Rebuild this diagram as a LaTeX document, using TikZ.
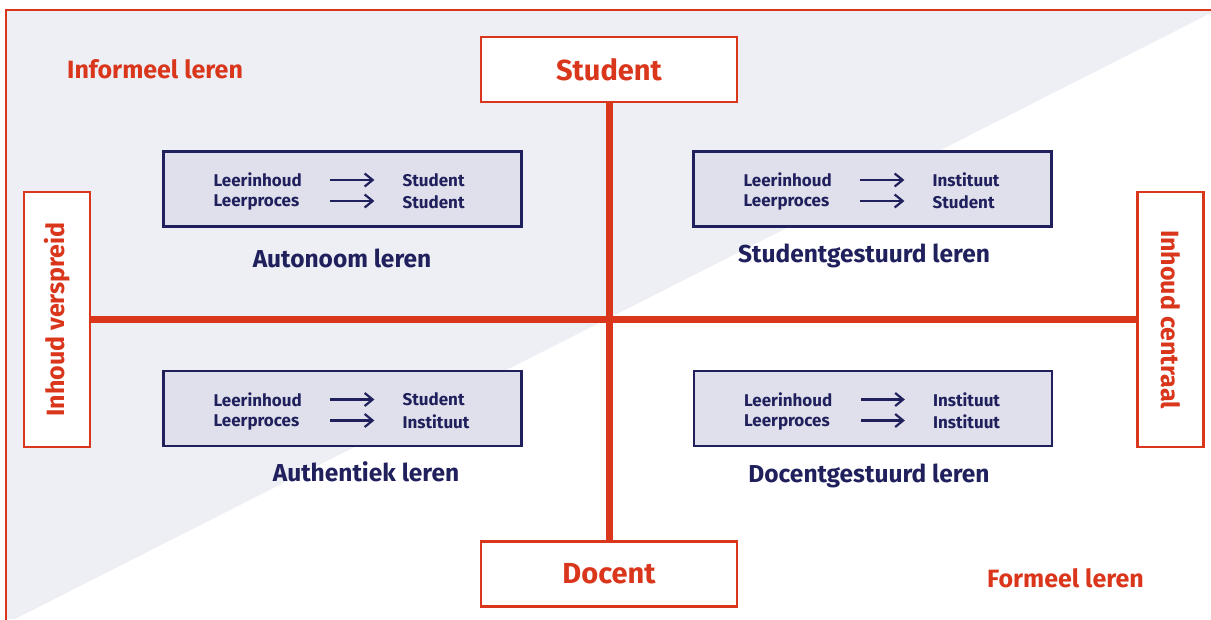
\documentclass[tikz,border=0pt]{standalone}
\usepackage{fontspec}
\setmainfont{Fira Sans}
\usetikzlibrary{arrows.meta,calc}
\definecolor{rood}{HTML}{D9361C}
\definecolor{navy}{HTML}{1F205C}
\definecolor{lila}{HTML}{EEEEF5}
\definecolor{vakvul}{HTML}{E0E0EC}
\tikzset{
  redbox/.style={draw=rood,line width=2.2pt,fill=white,inner sep=0pt},
  pole/.style={redbox,minimum width=256pt,minimum height=65pt,font=\bfseries\fontsize{29}{30}\selectfont,text=rood},
  side/.style={redbox,minimum width=255pt,minimum height=66pt,font=\bfseries\fontsize{25}{27}\selectfont,text=rood},
  axis/.style={draw=rood,line width=7pt},
  quadbox/.style={draw=navy,line width=2.2pt,fill=vakvul,minimum width=358pt,minimum height=75pt,inner sep=0pt},
  qtext/.style={anchor=west,inner sep=0pt,text=navy,font=\bfseries\fontsize{17}{18}\selectfont},
  qlabel/.style={text=navy,inner sep=0pt,font=\bfseries\fontsize{24.5}{26}\selectfont},
  flow/.style={draw=navy,line width=2.2pt,-{Straight Barb[length=8pt,width=13pt]}},
  leertype/.style={text=rood,inner sep=0pt,font=\bfseries\fontsize{25}{26}\selectfont},
}
% one quadrant: box, two rows "source -> target", and its caption
\newcommand\kwadrant[6]{%
  \node[quadbox] (#1) at (#2) {};
  \node[qtext] (#1-a1) at ($(#1.west)+(51,-9)$) {Leerinhoud};
  \node[qtext] (#1-a2) at ($(#1.west)+(51,13.5)$) {Leerproces};
  \node[qtext] (#1-b1) at ($(#1.west)+(240,-9)$) {#3};
  \node[qtext] (#1-b2) at ($(#1.west)+(240,13)$) {#4};
  \coordinate (#1-p1) at ($(#1.west)+(168,-9)$);
  \coordinate (#1-q1) at ($(#1.west)+(212,-9)$);
  \coordinate (#1-p2) at ($(#1.west)+(168,12)$);
  \coordinate (#1-q2) at ($(#1.west)+(212,12)$);
  \draw[flow] (#1-p1) -- (#1-q1);
  \draw[flow] (#1-p2) -- (#1-q2);
  \node[qlabel] (#1-lab) at #6 {#5};
}
\begin{document}
\begin{tikzpicture}[x=1pt,y=-1pt]
\useasboundingbox (0,0) rectangle (1211,619);
% informal / formal split of the field
\fill[lila] (6,10) -- (1211,10) -- (1211,13) -- (15,619) -- (6,619) -- cycle;
\draw[rood,line width=2.5pt] (6,622) -- (6,10) -- (1215,10);

% poles and axes
\node[pole] (student) at (609,69.5) {Student};
\node[pole] (docent) at (609,574) {Docent};
\node[side,rotate=90] (verspreid) at (57,319.5) {Inhoud verspreid};
\node[side,rotate=-90] (centraal) at (1170.5,319.5) {Inhoud centraal};
\draw[axis] (student.south) -- (docent.north);
\draw[axis] (verspreid.south) -- (centraal.south);

\node[leertype,anchor=west] (informeel) at (67,69) {Informeel leren};
\node[leertype,anchor=west] (formeel) at (987,578) {Formeel leren};

% the four quadrants
\kwadrant{tl}{342.5,189}{Student}{Student}{Autonoom leren}{(342,258)}
\kwadrant{tr}{872.5,189}{Instituut}{Student}{Studentgestuurd leren}{(864,256)}
\kwadrant{bl}{342.5,408.5}{Student}{Instituut}{Authentiek leren}{(366,472)}
\kwadrant{br}{873,408.5}{Instituut}{Instituut}{Docentgestuurd leren}{(869,476)}
\end{tikzpicture}
\end{document}
